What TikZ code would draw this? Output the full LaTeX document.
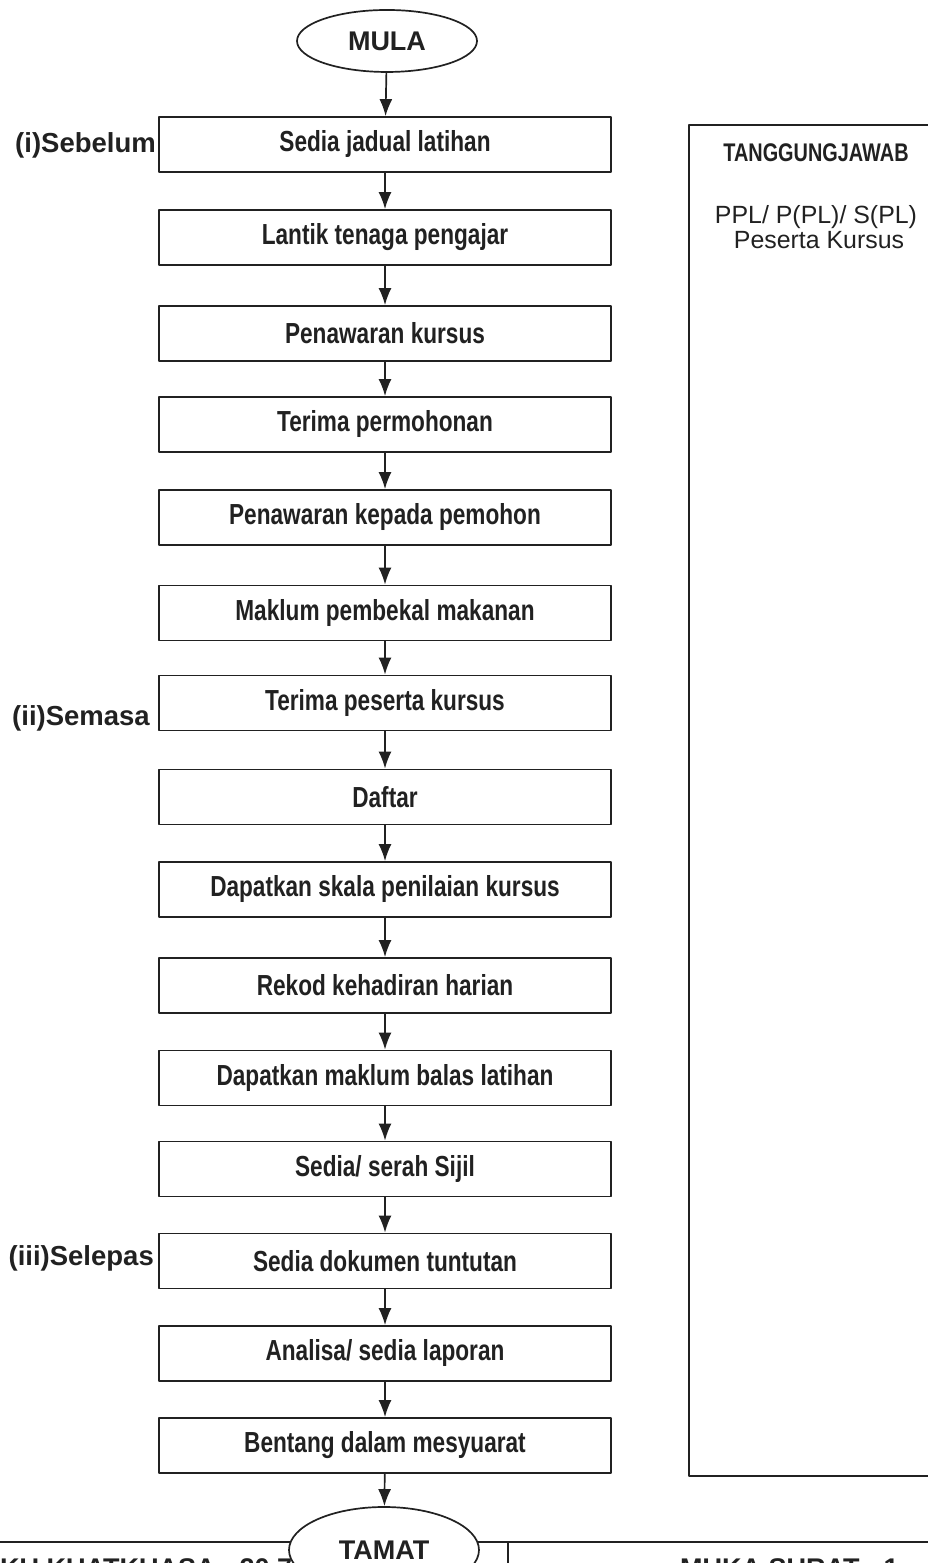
\documentclass[tikz,border=0pt]{standalone}
\usepackage{fontspec}
\setmainfont{Liberation Sans}
\newfontfamily\narrowfont{Liberation Sans}[FakeStretch=0.78]
\usepackage{tikz}
\usetikzlibrary{positioning,shapes.geometric,arrows.meta}
\definecolor{ink}{gray}{0.13}

\begin{document}
\begin{tikzpicture}[>={Latex[length=17bp,width=13bp]},line join=bevel,
  stepbox/.style={draw=ink,line width=1.7bp,minimum width=452bp,minimum height=55bp,inner sep=0pt,text=ink,font=\narrowfont\bfseries\fontsize{29bp}{34bp}\selectfont},
  termbox/.style={draw=ink,ellipse,line width=1.7bp,fill=white,minimum width=180bp,minimum height=62bp,inner sep=0pt,text=ink,font=\bfseries\fontsize{27bp}{32bp}\selectfont},
  phase/.style={anchor=east,inner sep=0pt,text=ink,font=\bfseries\fontsize{27.5bp}{33bp}\selectfont},
  respbox/.style={draw=ink,line width=1.9bp,minimum width=261bp,minimum height=1351bp,inner sep=0pt},
  foot/.style={anchor=base west,inner sep=0pt,text=ink,font=\bfseries\fontsize{27bp}{32bp}\selectfont},
  flow/.style={ink,line width=1.7bp,->},
  ]
%%
\useasboundingbox (0bp,0bp) rectangle (928bp,1563bp);
\node (mula) at (387bp,1522bp) [termbox] {MULA};
  \node (jadual) at (385bp,1418.5bp) [stepbox] {Sedia jadual latihan};
  \node (lantik) at (385bp,1325.5bp) [stepbox] {Lantik tenaga pengajar};
  \node (tawar) at (385bp,1229.5bp) [stepbox] {Penawaran kursus};
  \node (mohon) at (385bp,1138.5bp) [stepbox] {Terima permohonan};
  \node (pemohon) at (385bp,1045.5bp) [stepbox] {Penawaran kepada pemohon};
  \node (makanan) at (385bp,950bp) [stepbox] {Maklum pembekal makanan};
  \node (peserta) at (385bp,860bp) [stepbox] {Terima peserta kursus};
  \node (daftar) at (385bp,766bp) [stepbox] {Daftar};
  \node (skala) at (385bp,673.5bp) [stepbox] {Dapatkan skala penilaian kursus};
  \node (hadir) at (385bp,577.5bp) [stepbox] {Rekod kehadiran harian};
  \node (balas) at (385bp,485bp) [stepbox] {Dapatkan maklum balas latihan};
  \node (sijil) at (385bp,394bp) [stepbox] {Sedia/ serah Sijil};
  \node (tuntut) at (385bp,302bp) [stepbox] {Sedia dokumen tuntutan};
  \node (lapor) at (385bp,209.5bp) [stepbox] {Analisa/ sedia laporan};
  \node (bentang) at (385bp,117.5bp) [stepbox] {Bentang dalam mesyuarat};
%
  \node (sebelum) at (156bp,1418bp) [phase] {(i)Sebelum};
  \node (semasa) at (150bp,845bp) [phase] {(ii)Semasa};
  \node (selepas) at (154bp,305bp) [phase] {(iii)Selepas};
%
  \node (resp) at (819.5bp,762.5bp) [respbox] {};
  \node (tj) at (816bp,1410bp) [text=ink,font=\narrowfont\bfseries\fontsize{25.5bp}{30bp}\selectfont] {TANGGUNGJAWAB};
  \node (ppl) at (816bp,1346bp) [text=ink,font=\fontsize{24.9bp}{30bp}\selectfont] {PPL/ P(PL)/ S(PL)};
  \node (kursus) at (819bp,1323bp) [text=ink,font=\fontsize{24.9bp}{30bp}\selectfont] {Peserta Kursus};
%
  \coordinate (footl) at (0bp,21bp);
  \coordinate (footr) at (928bp,21bp);
  \coordinate (footm) at (508bp,21bp);
  \coordinate (footb) at (508bp,-10bp);
  \draw [ink,line width=1.7bp] (footl) -- (footr);
  \draw [ink,line width=1.2bp] (footm) -- (footb);
  \node (kuatkuasa) at (0bp,-14bp) [foot] {KU KUATKUASA : 20.7};
  \node (mukasurat) at (680bp,-14bp) [foot] {MUKA SURAT : 1};
  \node (tamat) at (384bp,13bp) [termbox,minimum width=190bp,minimum height=86bp] {TAMAT};
%
  \draw [flow] (mula) -- (jadual);
  \draw [flow] (jadual) -- (lantik);
  \draw [flow] (lantik) -- (tawar);
  \draw [flow] (tawar) -- (mohon);
  \draw [flow] (mohon) -- (pemohon);
  \draw [flow] (pemohon) -- (makanan);
  \draw [flow] (makanan) -- (peserta);
  \draw [flow] (peserta) -- (daftar);
  \draw [flow] (daftar) -- (skala);
  \draw [flow] (skala) -- (hadir);
  \draw [flow] (hadir) -- (balas);
  \draw [flow] (balas) -- (sijil);
  \draw [flow] (sijil) -- (tuntut);
  \draw [flow] (tuntut) -- (lapor);
  \draw [flow] (lapor) -- (bentang);
  \draw [flow] (bentang) -- (tamat);
%
\end{tikzpicture}
\end{document}
